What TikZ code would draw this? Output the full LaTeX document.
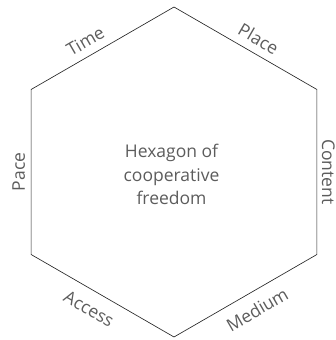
\documentclass[tikz,border=0pt]{standalone}
\usepackage{fontspec}
\setmainfont{Open Sans}
\usetikzlibrary{calc}

\begin{document}
\begin{tikzpicture}[x=1pt,y=1pt,
      nodes={text=black!64, font=\fontsize{17.5}{23.5}\selectfont},
      side/.style={draw=black!85, line width=0.65pt, line join=miter}]
    \useasboundingbox (0,0) rectangle (336,340);
    \coordinate (c) at (174,168);
    \coordinate (t) at ($(c)+(90:165)$);
    \coordinate (ur) at ($(c)+(30:165)$);
    \coordinate (lr) at ($(c)+(-30:165)$);
    \coordinate (b) at ($(c)+(-90:165)$);
    \coordinate (ll) at ($(c)+(-150:165)$);
    \coordinate (ul) at ($(c)+(150:165)$);
    \draw[side] (t) -- (ur) -- (lr) -- (b) -- (ll) -- (ul) -- cycle;

    \path (ul) -- node[sloped,above=4.5pt,pos=0.43](time){Time} (t);
    \path (t) -- node[sloped,above=4.5pt,pos=0.54](place){Place} (ur);
    \path (ur) -- node[sloped,above=1.5pt,pos=0.5](content){Content} (lr);
    \path (b) -- node[sloped,below=7.5pt,pos=0.52](medium){Medium} (lr);
    \path (ll) -- node[sloped,below=8.5pt,pos=0.47](access){Access} (b);
    \path (ll) -- node[sloped,above=2.5pt,pos=0.5](pace){Pace} (ul);

    \node[align=center](hex) at ($(c)+(-2.5,-2.5)$) {Hexagon of\\cooperative\\freedom};
\end{tikzpicture}
\end{document}
